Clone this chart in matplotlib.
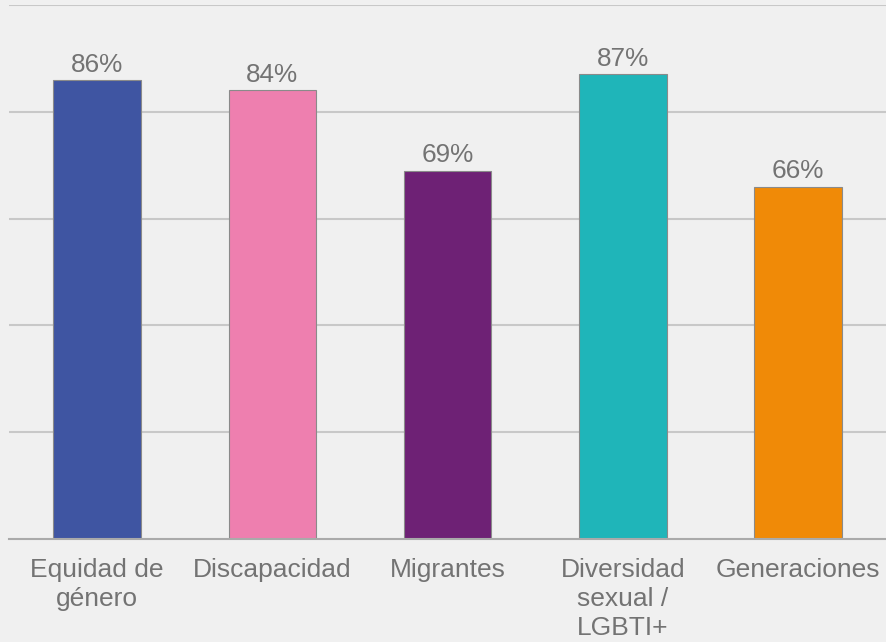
import matplotlib
matplotlib.use("Agg")
import matplotlib.pyplot as plt

categories = ["Equidad de\ngénero", "Discapacidad", "Migrantes", "Diversidad\nsexual /\nLGBTI+", "Generaciones"]
values = [86, 84, 69, 87, 66]
value_labels = ["86%", "84%", "69%", "87%", "66%"]
colors = ["#3F55A2", "#EE7FAF", "#6E2175", "#1FB5B9", "#F08A07"]

plt.rcParams['font.family'] = ['Liberation Sans', 'DejaVu Sans']
bg = "#F0F0F0"
txt = "#737373"

fig = plt.figure(figsize=(8.87, 6.42), dpi=100, facecolor=bg)
ax = fig.add_axes([0.0107, 0.1604, 0.9878, 0.8318], facecolor=bg)

x = list(range(len(categories)))
bars = ax.bar(x, values, width=0.5, color=colors, edgecolor="#8a8a8a", linewidth=0.8, zorder=3)
for xi, v, lab in zip(x, values, value_labels):
    ax.text(xi, v + 0.6, lab, ha="center", va="bottom", fontsize=18.8, color=txt, zorder=4)

ax.set_xlim(-0.5, 4.5)
ax.set_ylim(0, 100)
ax.set_yticks([20, 40, 60, 80, 100])
ax.yaxis.grid(True, color="#C8C8C8", linewidth=1.5, zorder=0)
ax.set_yticklabels([])
ax.tick_params(axis="y", length=0)
ax.set_xticks(x)
ax.set_xticklabels(categories, fontsize=19, color=txt, linespacing=1.25)
ax.tick_params(axis="x", length=0, pad=14)
for s in ["top", "right", "left"]:
    ax.spines[s].set_visible(False)
ax.spines["bottom"].set_color("#AAAAAA")
ax.spines["bottom"].set_linewidth(1.5)
ax.spines["bottom"].set_zorder(5)

fig.savefig("out.png", dpi=100, facecolor=bg)
